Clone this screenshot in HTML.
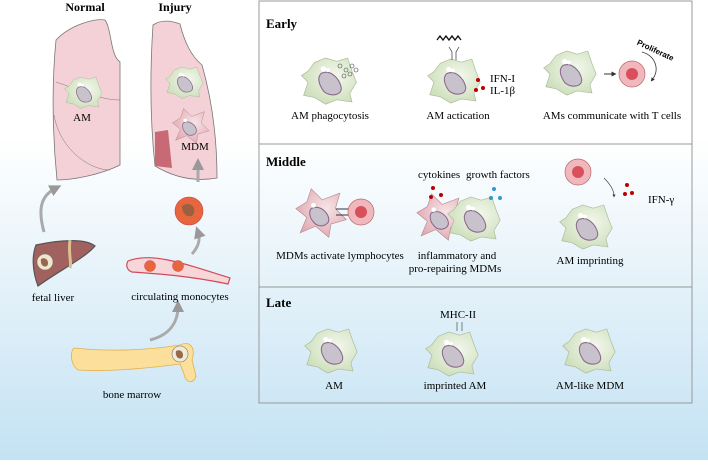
<!DOCTYPE html>
<html><head><style>
body{margin:0;width:708px;height:460px;overflow:hidden;font-family:"Liberation Serif",serif}
</style></head><body>
<svg width="708" height="460" viewBox="0 0 708 460" xmlns="http://www.w3.org/2000/svg" font-family="Liberation Serif, serif">
<defs>
<linearGradient id="bg" x1="0" y1="0" x2="0" y2="1">
<stop offset="0" stop-color="#fff"/><stop offset="0.3" stop-color="#fff"/><stop offset="1" stop-color="#c4e2f3"/></linearGradient>
<radialGradient id="gc" cx="0.6" cy="0.4" r="0.7"><stop offset="0" stop-color="#f4f8ee"/><stop offset="1" stop-color="#c9dcb5"/></radialGradient>
<radialGradient id="pc" cx="0.6" cy="0.4" r="0.7"><stop offset="0" stop-color="#f6e4e6"/><stop offset="1" stop-color="#dfa5ad"/></radialGradient>
<marker id="ar" viewBox="0 0 10 10" refX="5" refY="5" markerWidth="4" markerHeight="4" orient="auto"><path d="M0,0L10,5L0,10z" fill="#999"/></marker>
<marker id="ak" viewBox="0 0 10 10" refX="5" refY="5" markerWidth="5" markerHeight="5" orient="auto"><path d="M0,0L10,5L0,10z" fill="#333"/></marker>
<g id="am"><path d="M-20,-8 L-14,-16 L-4,-20 L6,-17 L16,-20 L20,-8 L24,2 L18,12 L20,20 L6,18 L-4,22 L-14,16 L-24,14 L-20,2 L-26,-4z" fill="url(#gc)" stroke="#aab89a" stroke-width="0.6"/>
<path d="M-8,-6 C0,-10 8,-2 10,6 C12,14 0,16 -6,10 C-10,4 -12,-2 -8,-6z" fill="#c8c2cc" stroke="#8a6a8a" stroke-width="1"/>
<circle cx="-6" cy="-10" r="2.5" fill="#fff"/><circle cx="-2" cy="-9" r="1.8" fill="#fff"/></g>
<g id="mdm"><path d="M-22,-4 L-12,-10 L-8,-22 L2,-12 L18,-18 L14,-4 L24,6 L10,10 L8,22 L-4,12 L-18,18 L-12,4z" fill="url(#pc)" stroke="#b58a90" stroke-width="0.6"/>
<path d="M-8,-4 C0,-8 8,0 8,6 C8,12 -2,14 -6,8 C-10,4 -10,-2 -8,-4z" fill="#c8c2cc" stroke="#8a6a8a" stroke-width="1"/>
<circle cx="-6" cy="-7" r="2.2" fill="#fff"/></g>
<g id="tc"><circle r="13" fill="#f0b8bd" stroke="#b66" stroke-width="0.7"/><circle r="6" fill="#d8505c"/></g>
</defs>
<rect width="708" height="460" fill="url(#bg)"/>
<!-- lungs -->
<path d="M56,40 C70,25 95,18 105,20 C112,30 110,55 120,62 L120,165 C100,175 72,180 57,180 C52,130 52,80 56,40z" fill="#f3d1d6" stroke="#777" stroke-width="0.8"/>
<path d="M56,82 C80,90 100,100 120,100 M54,115 C60,150 90,170 110,170" fill="none" stroke="#777" stroke-width="0.5"/>
<use href="#am" transform="translate(84,92) scale(0.75)"/>
<text x="82" y="121" font-size="11" text-anchor="middle">AM</text>
<path d="M153,25 C160,20 170,20 180,24 C184,40 190,55 202,65 C212,100 217,140 217,178 C195,182 175,178 155,166 C150,120 150,70 153,25z" fill="#f3d1d6" stroke="#777" stroke-width="0.8"/>
<path d="M155,132 L168,130 L172,168 L155,166z" fill="#c86a76"/>
<use href="#am" transform="translate(185,82) scale(0.75)"/>
<use href="#mdm" transform="translate(190,126) scale(0.8)"/>
<text x="195" y="150" font-size="11" text-anchor="middle">MDM</text>
<text x="85" y="11" font-size="12" font-weight="bold" text-anchor="middle">Normal</text>
<text x="175" y="11" font-size="12" font-weight="bold" text-anchor="middle">Injury</text>
<!-- arrows -->
<path d="M44,232 C38,210 40,196 56,188" fill="none" stroke="#aaa" stroke-width="3" marker-end="url(#ar)"/>
<path d="M192,254 C200,245 200,238 198,232" fill="none" stroke="#aaa" stroke-width="3" marker-end="url(#ar)"/>
<path d="M198,182 L198,164" fill="none" stroke="#aaa" stroke-width="3" marker-end="url(#ar)"/>
<path d="M150,340 C170,335 178,322 178,306" fill="none" stroke="#aaa" stroke-width="3" marker-end="url(#ar)"/>
<circle cx="189" cy="211" r="14" fill="#e8663e" stroke="#c44" stroke-width="0.6"/>
<path d="M182,206 C189,201 196,206 194,213 C192,219 182,217 182,206z" fill="#9a6040"/>
<!-- liver -->
<path d="M36,245 C60,240 85,238 95,246 C85,258 60,270 38,286 C32,270 32,255 36,245z" fill="#a0615f" stroke="#555" stroke-width="1.2"/>
<path d="M70,240 C68,255 72,262 70,268" stroke="#d8c090" stroke-width="3" fill="none"/>
<circle cx="45" cy="262" r="8" fill="#f0e6d0" stroke="#776" stroke-width="0.6"/>
<path d="M41,259 C46,256 50,262 47,266 C43,268 40,264 41,259z" fill="#946a4a"/>
<text x="53" y="301" font-size="11" text-anchor="middle">fetal liver</text>
<!-- vessel -->
<path d="M128,261 C150,252 180,262 230,278 L228,284 C190,276 160,274 132,272 C126,270 126,264 128,261z" fill="#f7d5d8" stroke="#d24a5a" stroke-width="1.2"/>
<circle cx="150" cy="266" r="5.5" fill="#e8663e" stroke="#c44" stroke-width="0.5"/><circle cx="178" cy="266" r="5.5" fill="#e8663e" stroke="#c44" stroke-width="0.5"/>
<text x="180" y="300" font-size="11" text-anchor="middle">circulating monocytes</text>
<!-- bone -->
<path d="M74,348 C110,352 150,350 180,345 C190,340 196,348 192,360 L196,376 C194,384 186,384 184,374 L180,364 C150,368 110,372 78,370 C70,364 70,352 74,348z" fill="#fbdf9a" stroke="#e2b04c" stroke-width="0.8"/>
<circle cx="180" cy="354" r="8" fill="#f2ead8" stroke="#776" stroke-width="0.6"/>
<path d="M176,351 C181,348 185,354 182,358 C178,360 175,356 176,351z" fill="#946a4a"/>
<text x="132" y="398" font-size="11" text-anchor="middle">bone marrow</text>
<!-- panel -->
<rect x="259" y="1" width="433" height="143" fill="#fff"/>
<rect x="259" y="1" width="433" height="402" fill="none" stroke="#999" stroke-width="1"/>
<line x1="259" y1="144" x2="692" y2="144" stroke="#999"/>
<line x1="259" y1="287" x2="692" y2="287" stroke="#999"/>
<g font-size="11">
<text x="266" y="28" font-size="13" font-weight="bold">Early</text>
<use href="#am" transform="translate(330,80) scale(1.1)"/>
<g fill="none" stroke="#444" stroke-width="0.6"><circle cx="340" cy="66" r="2"/><circle cx="346" cy="70" r="2"/><circle cx="352" cy="66" r="2"/><circle cx="344" cy="76" r="2"/><circle cx="350" cy="74" r="2"/><circle cx="356" cy="70" r="2"/></g>
<text x="330" y="119" text-anchor="middle">AM phagocytosis</text>
<use href="#am" transform="translate(455,80) scale(1.05)"/>
<path d="M437,40 l3,-4 l3,4 l3,-4 l3,4 l3,-4 l3,4 l3,-4 l3,4" fill="none" stroke="#111" stroke-width="1.3"/>
<path d="M452,60 L452,52 L449,47 M456,60 L456,52 L459,47" fill="none" stroke="#333" stroke-width="0.7"/>
<circle cx="478" cy="80" r="2" fill="#b00"/><circle cx="476" cy="90" r="2" fill="#b00"/><circle cx="483" cy="88" r="2" fill="#b00"/>
<text x="490" y="82">IFN-I</text><text x="490" y="94">IL-1β</text>
<text x="458" y="119" text-anchor="middle">AM actication</text>
<use href="#am" transform="translate(571,72) scale(1.05)"/>
<line x1="604" y1="74" x2="614" y2="74" stroke="#333" stroke-width="1" marker-end="url(#ak)"/>
<use href="#tc" x="632" y="74"/>
<path d="M642,52 C656,56 660,70 652,80" fill="none" stroke="#333" stroke-width="0.8" marker-end="url(#ak)"/>
<text x="636" y="46" font-family="Liberation Sans, sans-serif" font-size="8" font-weight="bold" transform="rotate(25 640 46)">Proliferate</text>
<text x="612" y="119" text-anchor="middle">AMs communicate with T cells</text>
<text x="266" y="166" font-size="13" font-weight="bold">Middle</text>
<use href="#mdm" transform="translate(320,213) scale(1.1)"/>
<line x1="336" y1="209" x2="351" y2="209" stroke="#333"/><line x1="336" y1="215" x2="351" y2="215" stroke="#333"/>
<use href="#tc" x="361" y="212"/>
<text x="340" y="259" text-anchor="middle">MDMs activate lymphocytes</text>
<use href="#mdm" transform="translate(440,217) scale(1.05)"/>
<use href="#am" transform="translate(475,218) scale(1.05)"/>
<circle cx="433" cy="188" r="2" fill="#b00"/><circle cx="431" cy="197" r="2" fill="#b00"/><circle cx="441" cy="195" r="2" fill="#b00"/>
<circle cx="494" cy="189" r="2" fill="#39c"/><circle cx="491" cy="198" r="2" fill="#39c"/><circle cx="500" cy="198" r="2" fill="#39c"/>
<text x="418" y="178">cytokines</text><text x="466" y="178">growth factors</text>
<text x="457" y="259" text-anchor="middle">inflammatory and</text>
<text x="455" y="272" text-anchor="middle">pro-repairing MDMs</text>
<use href="#tc" x="578" y="172"/>
<path d="M604,178 C610,184 614,190 614,196" fill="none" stroke="#333" stroke-width="0.6" marker-end="url(#ak)"/>
<circle cx="627" cy="185" r="2" fill="#b00"/><circle cx="625" cy="194" r="2" fill="#b00"/><circle cx="632" cy="193" r="2" fill="#b00"/>
<text x="648" y="203">IFN-γ</text>
<use href="#am" transform="translate(587,226) scale(1.05)"/>
<text x="590" y="264" text-anchor="middle">AM imprinting</text>
<text x="266" y="307" font-size="13" font-weight="bold">Late</text>
<use href="#am" transform="translate(332,350) scale(1.05)"/>
<text x="334" y="389" text-anchor="middle">AM</text>
<use href="#am" transform="translate(453,353) scale(1.05)"/>
<path d="M457,331 L457,322 M462,331 L462,322" stroke="#333" stroke-width="0.6"/>
<text x="458" y="318" text-anchor="middle">MHC-II</text>
<text x="455" y="389" text-anchor="middle">imprinted AM</text>
<use href="#am" transform="translate(590,350) scale(1.05)"/>
<text x="590" y="389" text-anchor="middle">AM-like MDM</text>
</g>
</svg>
</body></html>
